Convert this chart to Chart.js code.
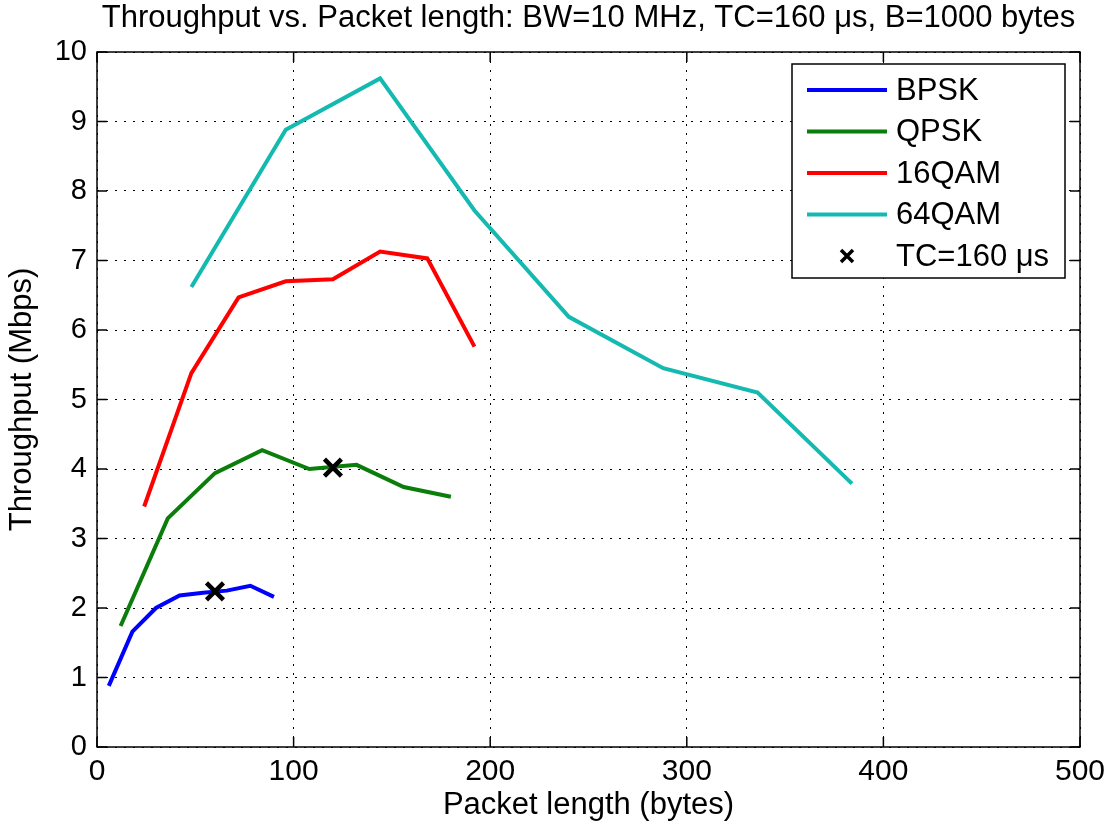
<!DOCTYPE html>
<html>
<head>
<meta charset="utf-8">
<script src="https://cdn.jsdelivr.net/npm/chart.js@4/dist/chart.umd.min.js"></script>
<style>
  body { margin: 0; background: #fff; }
  canvas { display: block; }
</style>
</head>
<body>
<canvas id="tputChart" width="1116" height="829"></canvas>
<script>
const titleText = 'Throughput vs. Packet length: BW=10 MHz, TC=160 \u03bcs, B=1000 bytes';

const bpskX = [6, 18, 30, 42, 54, 66, 78, 90];
const bpskY = [0.88, 1.66, 2.0, 2.18, 2.22, 2.25, 2.32, 2.16];

const qpskX = [12, 36, 60, 84, 108, 132, 156, 180];
const qpskY = [1.74, 3.29, 3.94, 4.27, 4.0, 4.06, 3.74, 3.6];

const qam16X = [24, 48, 72, 96, 120, 144, 168, 192];
const qam16Y = [3.46, 5.38, 6.47, 6.7, 6.73, 7.13, 7.03, 5.76];

const qam64X = [48, 96, 144, 192, 240, 288, 336, 384];
const qam64Y = [6.62, 8.88, 9.62, 7.72, 6.19, 5.45, 5.1, 3.79];

const tcX = [60, 120];
const tcY = [2.24, 4.02];

const seriesNames = ['BPSK', 'QPSK', '16QAM', '64QAM', 'TC=160 \u03bcs'];
const seriesColors = ['#0000ff', '#0a7d0a', '#ff0000', '#14b9b0', '#000000'];

const xTicks = [0, 100, 200, 300, 400, 500];
const yTicks = [0, 1, 2, 3, 4, 5, 6, 7, 8, 9, 10];

const FONT = '"Liberation Sans", Arial, Helvetica, sans-serif';

function toPoints(xs, ys) {
  return xs.map((x, i) => ({ x: x, y: ys[i] }));
}

// title, box, inward ticks and legend like the matlab figure
const matlabFrame = {
  id: 'matlabFrame',
  afterDraw(chart) {
    const ctx = chart.ctx;
    const area = chart.chartArea;
    const xs = chart.scales.x;
    const ys = chart.scales.y;

    ctx.save();
    ctx.fillStyle = '#000';
    ctx.font = '31px ' + FONT;
    ctx.textAlign = 'center';
    ctx.textBaseline = 'middle';
    ctx.fillText(titleText, (area.left + area.right) / 2, 18);

    ctx.strokeStyle = '#000';
    ctx.lineWidth = 1.5;
    ctx.strokeRect(area.left, area.top, area.right - area.left, area.bottom - area.top);

    const tl = 10;
    ctx.beginPath();
    xTicks.forEach(v => {
      const px = xs.getPixelForValue(v);
      ctx.moveTo(px, area.bottom);
      ctx.lineTo(px, area.bottom - tl);
      ctx.moveTo(px, area.top);
      ctx.lineTo(px, area.top + tl);
    });
    yTicks.forEach(v => {
      const py = ys.getPixelForValue(v);
      ctx.moveTo(area.left, py);
      ctx.lineTo(area.left + tl, py);
      ctx.moveTo(area.right, py);
      ctx.lineTo(area.right - tl, py);
    });
    ctx.stroke();

    // legend box
    const bx = area.right - 15;
    const lw = 273;
    const lx = bx - lw;
    const ly = area.top + 12;
    const lh = 214;
    ctx.fillStyle = '#fff';
    ctx.fillRect(lx, ly, lw, lh);
    ctx.lineWidth = 1.5;
    ctx.strokeRect(lx, ly, lw, lh);

    ctx.font = '31px ' + FONT;
    ctx.textAlign = 'left';
    ctx.textBaseline = 'middle';
    seriesNames.forEach((name, i) => {
      const cy = ly + 26 + i * 41.5;
      if (i < 4) {
        ctx.strokeStyle = seriesColors[i];
        ctx.lineWidth = 4;
        ctx.beginPath();
        ctx.moveTo(lx + 15, cy);
        ctx.lineTo(lx + 95, cy);
        ctx.stroke();
      } else {
        ctx.strokeStyle = '#000';
        ctx.lineWidth = 3.5;
        ctx.beginPath();
        ctx.moveTo(lx + 49, cy - 6);
        ctx.lineTo(lx + 61, cy + 6);
        ctx.moveTo(lx + 61, cy - 6);
        ctx.lineTo(lx + 49, cy + 6);
        ctx.stroke();
      }
      ctx.fillStyle = '#000';
      ctx.fillText(name, lx + 104, cy + 1);
    });
    ctx.restore();
  }
};

const lineDefaults = {
  borderWidth: 4,
  pointRadius: 0,
  tension: 0,
  fill: false,
  order: 1,
};

const ctx = document.getElementById('tputChart').getContext('2d');
const tputChart = new Chart(ctx, {
  type: 'line',
  data: {
    datasets: [
      {
        label: seriesNames[4],
        data: toPoints(tcX, tcY),
        showLine: false,
        pointStyle: 'crossRot',
        pointRadius: 12,
        pointBorderWidth: 4.5,
        borderColor: '#000',
        pointBorderColor: '#000',
        order: 0,
      },
      Object.assign({ label: seriesNames[0], data: toPoints(bpskX, bpskY), borderColor: seriesColors[0] }, lineDefaults),
      Object.assign({ label: seriesNames[1], data: toPoints(qpskX, qpskY), borderColor: seriesColors[1] }, lineDefaults),
      Object.assign({ label: seriesNames[2], data: toPoints(qam16X, qam16Y), borderColor: seriesColors[2] }, lineDefaults),
      Object.assign({ label: seriesNames[3], data: toPoints(qam64X, qam64Y), borderColor: seriesColors[3] }, lineDefaults),
    ]
  },
  options: {
    responsive: false,
    animation: false,
    layout: {
      padding: { top: 52, right: 36, bottom: 0, left: 0 },
    },
    plugins: {
      legend: { display: false },
      tooltip: { enabled: false },
      title: { display: false },
    },
    scales: {
      x: {
        type: 'linear',
        min: 0,
        max: 500,
        afterFit: (scale) => { scale.height = 82; },
        afterBuildTicks: (scale) => { scale.ticks = xTicks.map(v => ({ value: v })); },
        ticks: {
          color: '#000',
          font: { family: FONT, size: 30 },
          padding: 7,
          maxRotation: 0,
        },
        grid: {
          color: '#000',
          lineWidth: 1,
          drawTicks: false,
        },
        border: { display: false, dash: [2, 7] },
        title: {
          display: true,
          text: 'Packet length (bytes)',
          color: '#000',
          font: { family: FONT, size: 31 },
          padding: { top: 0, bottom: 5 },
        },
      },
      y: {
        type: 'linear',
        min: 0,
        max: 10,
        afterFit: (scale) => { scale.width = 97; },
        afterBuildTicks: (scale) => { scale.ticks = yTicks.map(v => ({ value: v })); },
        ticks: {
          color: '#000',
          font: { family: FONT, size: 29 },
          padding: 10,
        },
        grid: {
          color: '#000',
          lineWidth: 1,
          drawTicks: false,
        },
        border: { display: false, dash: [2, 7] },
        title: {
          display: true,
          text: 'Throughput (Mbps)',
          color: '#000',
          font: { family: FONT, size: 31 },
          padding: { top: 4, bottom: 0 },
        },
      },
    },
  },
  plugins: [matlabFrame],
});
</script>
</body>
</html>
